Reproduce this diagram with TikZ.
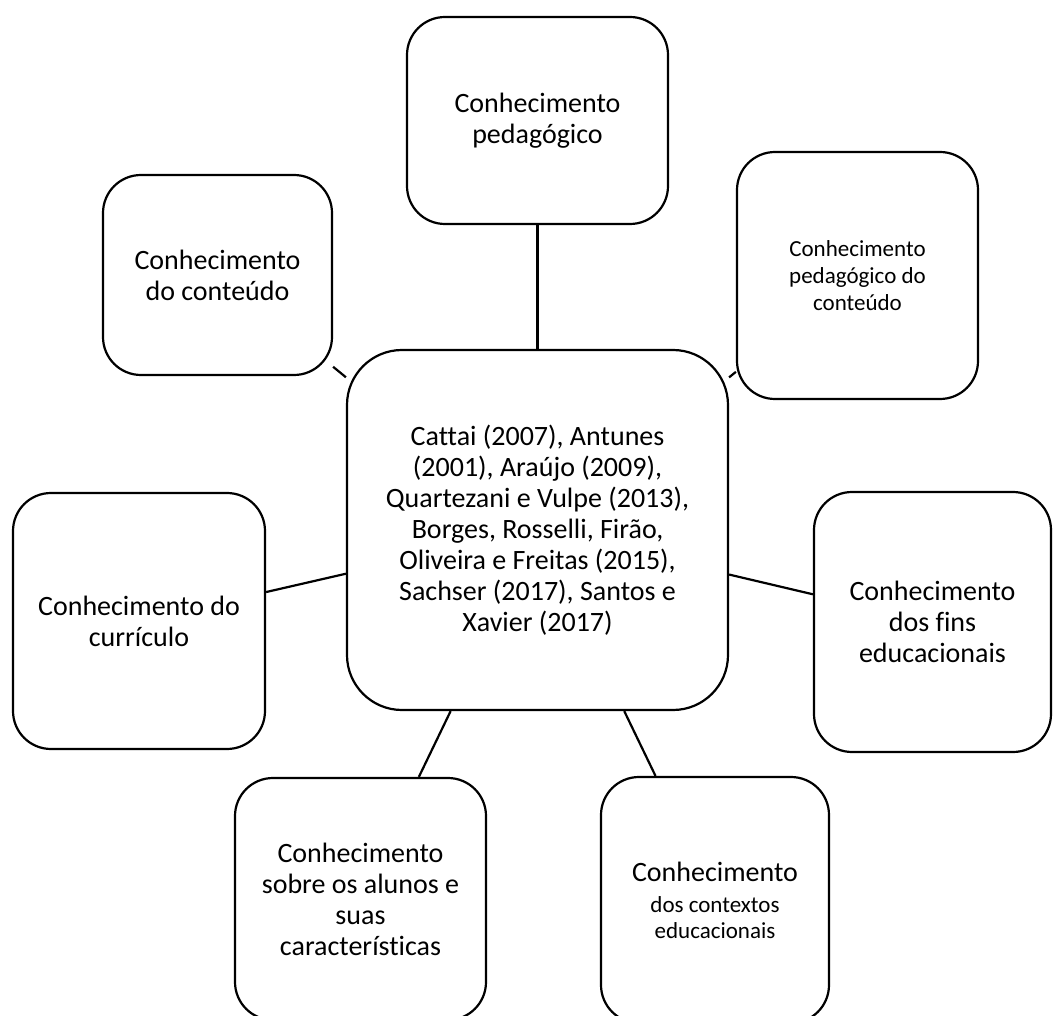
\documentclass[tikz,border=0pt]{standalone}
\usepackage{fontspec}
\setmainfont{Carlito}[Ligatures=NoCommon]
\usepackage{tikz}

\begin{document}
\begin{tikzpicture}[
  x=1pt, y=-1pt,
  box/.style={rectangle, draw, line width=2.2pt, rounded corners=38pt, align=center,
    inner sep=0pt, font=\fontsize{28}{31}\selectfont},
  hub/.style={box, rounded corners=55pt},
  link/.style={line width=2.2pt}
]
\clip (0,0) rectangle (1053,1016);

\node[hub, minimum width=381pt, minimum height=360pt] (autores) at (537.5,530)
  {Cattai (2007), Antunes\\(2001), Araújo (2009),\\Quartezani e Vulpe (2013),\\Borges, Rosselli, Firão,\\Oliveira e Freitas (2015),\\Sachser (2017), Santos e\\Xavier (2017)};

\node[box, minimum width=261pt, minimum height=207pt] (pedagogico) at (537.5,120.5)
  {Conhecimento\\pedagógico};
\node[box, minimum width=229pt, minimum height=200pt] (conteudo) at (217.5,275)
  {Conhecimento\\do conteúdo};
\node[box, minimum width=241pt, minimum height=247pt, font=\fontsize{23}{27}\selectfont] (pedconteudo) at (857.5,275.5)
  {Conhecimento\\pedagógico do\\conteúdo};
\node[box, minimum width=252pt, minimum height=256pt] (curriculo) at (139,621)
  {Conhecimento do\\currículo};
\node[box, minimum width=237pt, minimum height=260pt] (fins) at (932.5,622)
  {Conhecimento\\dos fins\\educacionais};
\node[box, minimum width=251pt, minimum height=242pt] (alunos) at (360.5,899)
  {Conhecimento\\sobre os alunos e\\suas\\características};
\node[box, minimum width=228pt, minimum height=246pt] (contextos) at (715,900)
  {Conhecimento\\\fontsize{23}{25}\selectfont dos contextos\\[-5pt]\fontsize{23}{25}\selectfont educacionais};

\draw[link] (autores) -- (pedagogico);
\draw[link] (autores) -- (conteudo);
\draw[link] (autores) -- (pedconteudo);
\draw[link] (autores) -- (curriculo);
\draw[link] (autores) -- (fins);
\draw[link] (autores) -- (alunos);
\draw[link] (autores) -- (contextos);

\end{tikzpicture}
\end{document}
